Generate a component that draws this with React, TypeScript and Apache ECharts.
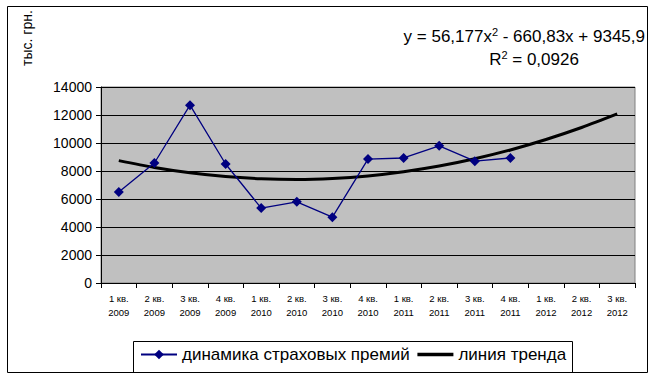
import React, { useEffect, useRef } from "react";
import * as echarts from "echarts";

const categories = [
  "1 кв.\n2009", "2 кв.\n2009", "3 кв.\n2009", "4 кв.\n2009",
  "1 кв.\n2010", "2 кв.\n2010", "3 кв.\n2010", "4 кв.\n2010",
  "1 кв.\n2011", "2 кв.\n2011", "3 кв.\n2011", "4 кв.\n2011",
  "1 кв.\n2012", "2 кв.\n2012", "3 кв.\n2012",
];
const premiums = [6500, 8570, 12700, 8500, 5350, 5800, 4700, 8850, 8930, 9800, 8700, 8930];
const trend = [8740, 8250, 7870, 7600, 7450, 7400, 7470, 7650, 7950, 8355, 8875, 9505, 10250, 11105, 12075];
const seriesNames = ["динамика страховых премий", "линия тренда"];
const yTitle = "тыс. грн.";

const FONT = "'Liberation Sans', Arial, sans-serif";

export default function App() {
  const ref = useRef<HTMLDivElement>(null);
  useEffect(() => {
    if (!ref.current) return;
    const chart = echarts.init(ref.current, undefined, { renderer: "svg" });
    chart.setOption({
      animation: false,
      backgroundColor: "#ffffff",
      textStyle: { fontFamily: FONT },
      grid: { left: 101, top: 87, right: 20, bottom: 96, show: true, backgroundColor: "#c0c0c0", borderColor: "#808080", borderWidth: 1 },
      xAxis: {
        type: "category",
        data: categories,
        boundaryGap: true,
        axisLine: { show: true, lineStyle: { color: "#000", width: 1 } },
        axisTick: { show: true, alignWithLabel: false, length: 5, lineStyle: { color: "#000" } },
        axisLabel: {
          color: "#000",
          fontSize: 9.5,
          lineHeight: 14,
          margin: 8,
          interval: 0,
          fontFamily: "'Liberation Sans Narrow', 'Arial Narrow', " + FONT,
        },
        splitLine: { show: false },
      },
      yAxis: {
        type: "value",
        min: 0,
        max: 14000,
        interval: 2000,
        axisLine: { show: true, lineStyle: { color: "#000", width: 1 } },
        axisTick: { show: true, length: 5, lineStyle: { color: "#000" } },
        axisLabel: { color: "#000", fontSize: 14, margin: 9, fontFamily: FONT, formatter: (v: number) => String(v) },
        splitLine: { show: true, lineStyle: { color: "#000", width: 1 } },
      },
      legend: {
        left: 140,
        top: 346,
        itemWidth: 36,
        itemHeight: 12,
        itemGap: 6,
        padding: 0,
        textStyle: { color: "#000", fontSize: 17, fontFamily: FONT },
        data: [
          seriesNames[0],
          { name: seriesNames[1], itemStyle: { opacity: 0 }, lineStyle: { width: 3.5, color: "#000" } },
        ],
      },
      graphic: [
        {
          type: "rect",
          shape: { x: 7.5, y: 6.5, width: 640, height: 366 },
          style: { fill: "none", stroke: "#000", lineWidth: 1 },
          silent: true,
        },
        {
          type: "rect",
          shape: { x: 133.5, y: 341.5, width: 439, height: 31 },
          style: { fill: "none", stroke: "#000", lineWidth: 1 },
          silent: true,
        },
        {
          type: "text",
          x: 645,
          y: 36,
          style: {
            text: "{n|y = 56,177x}{s|2}{n| - 660,83x + 9345,9}",
            fill: "#000",
            fontFamily: FONT,
            align: "right",
            verticalAlign: "middle",
            rich: {
              n: { fontSize: 17, fontFamily: FONT, fill: "#000", lineHeight: 20 },
              s: { fontSize: 11, fontFamily: FONT, fill: "#000", lineHeight: 20, verticalAlign: "top", padding: [0, 0, 8, 0] },
            },
          },
        },
        {
          type: "text",
          x: 534,
          y: 59,
          style: {
            text: "{n|R}{s|2}{n| = 0,0926}",
            fill: "#000",
            fontFamily: FONT,
            align: "center",
            verticalAlign: "middle",
            rich: {
              n: { fontSize: 17, fontFamily: FONT, fill: "#000", lineHeight: 20 },
              s: { fontSize: 11, fontFamily: FONT, fill: "#000", lineHeight: 20, verticalAlign: "top", padding: [0, 0, 8, 0] },
            },
          },
        },
        {
          type: "text",
          x: 27,
          y: 38,
          rotation: Math.PI / 2,
          style: { text: yTitle, fill: "#000", fontSize: 14, fontFamily: FONT, align: "center", verticalAlign: "middle" },
        },
      ],
      series: [
        {
          name: seriesNames[0],
          type: "line",
          data: premiums,
          symbol: "diamond",
          symbolSize: 10,
          lineStyle: { color: "#000080", width: 1.3 },
          itemStyle: { color: "#000080" },
          z: 3,
        },
        {
          name: seriesNames[1],
          type: "line",
          data: trend,
          symbol: "none",
          smooth: 0.3,
          lineStyle: { color: "#000", width: 3 },
          itemStyle: { color: "#000" },
          z: 2,
        },
      ],
    });
    return () => chart.dispose();
  }, []);
  return <div ref={ref} style={{ position: "fixed", left: 0, top: 0, width: 655, height: 379 }} />;
}
